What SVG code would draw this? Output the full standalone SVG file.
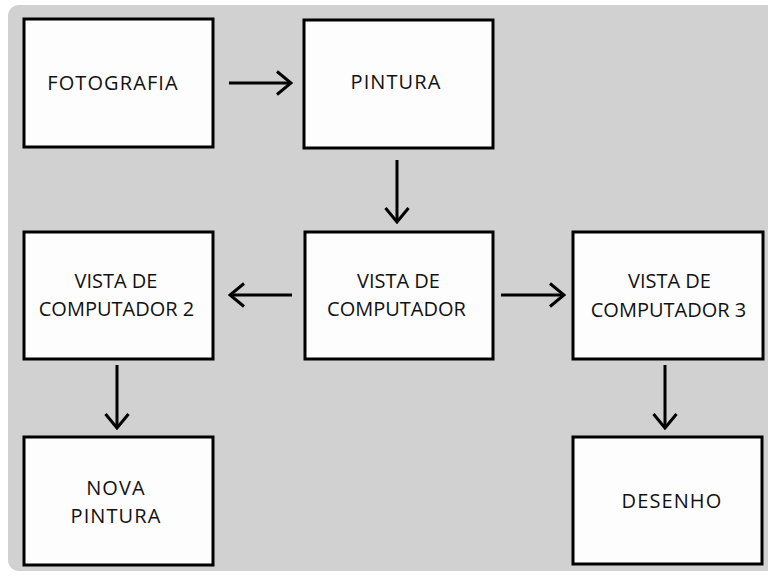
<svg xmlns="http://www.w3.org/2000/svg" width="768" height="576" viewBox="0 0 768 576">
<style>
.box{fill:#fdfdfd;stroke:#000;stroke-width:3}
.lbl{font-family:"Open Sans","Noto Sans",sans-serif;font-size:20px;fill:#111;text-anchor:middle}
.sp{letter-spacing:1.1px}
.conn line{stroke:#000;stroke-width:3}
</style>
<defs>
<marker id="ah" viewBox="0 0 18 26" refX="16" refY="13" markerWidth="18" markerHeight="26" markerUnits="userSpaceOnUse" orient="auto">
<path d="M2,1.5 L16,13 L2,24.5" fill="none" stroke="#000" stroke-width="3"/>
</marker>
</defs>
<rect x="0" y="0" width="768" height="576" fill="#fff"/>
<rect x="8" y="5" width="780" height="566" rx="11" fill="#d1d1d1"/>
<g id="fotografia"><rect class="box" x="24" y="19" width="189" height="128"/><text class="lbl sp" x="113" y="90">FOTOGRAFIA</text></g>
<g id="pintura"><rect class="box" x="304" y="20" width="189" height="128"/><text class="lbl sp" x="396" y="89">PINTURA</text></g>
<g id="vista2"><rect class="box" x="24" y="232" width="189" height="127"/><text class="lbl" x="116" y="288">VISTA DE</text><text class="lbl" x="116.5" y="316">COMPUTADOR 2</text></g>
<g id="vista"><rect class="box" x="305" y="232" width="188" height="127"/><text class="lbl" x="398.5" y="288">VISTA DE</text><text class="lbl" x="396.5" y="316">COMPUTADOR</text></g>
<g id="vista3"><rect class="box" x="573" y="232" width="190" height="127"/><text class="lbl" x="669.5" y="288">VISTA DE</text><text class="lbl" x="668.5" y="317">COMPUTADOR 3</text></g>
<g id="novapintura"><rect class="box" x="24" y="437" width="189" height="128"/><text class="lbl sp" x="116" y="495">NOVA</text><text class="lbl sp" x="116" y="523">PINTURA</text></g>
<g id="desenho"><rect class="box" x="573" y="437" width="189" height="127"/><text class="lbl sp" x="672" y="508">DESENHO</text></g>
<g id="connectors" class="conn">
<line x1="229" y1="83" x2="291" y2="83" marker-end="url(#ah)"/>
<line x1="397" y1="160" x2="397" y2="222" marker-end="url(#ah)"/>
<line x1="292" y1="295" x2="230" y2="295" marker-end="url(#ah)"/>
<line x1="501" y1="295" x2="564" y2="295" marker-end="url(#ah)"/>
<line x1="117" y1="365" x2="117" y2="428" marker-end="url(#ah)"/>
<line x1="665" y1="365" x2="665" y2="428" marker-end="url(#ah)"/>
</g>
</svg>
